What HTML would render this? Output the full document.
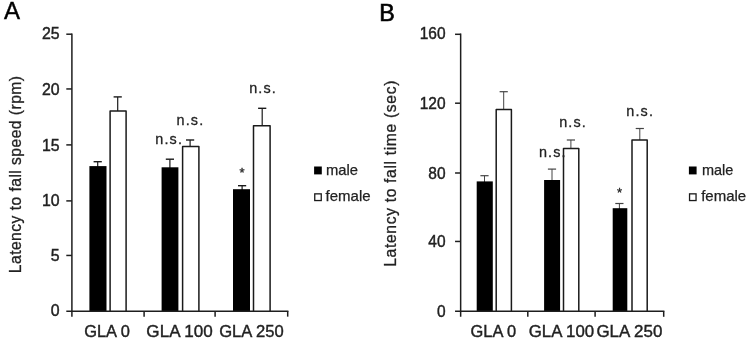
<!DOCTYPE html>
<html lang="en"><head><meta charset="utf-8"><title>Latency to fall</title>
<style>
html,body{margin:0;padding:0;background:#fff;}
svg{display:block;font-family:'Liberation Sans', sans-serif;}
body{width:749px;height:340px;overflow:hidden;}
</style></head><body>
<svg width="749" height="340" viewBox="0 0 749 340" style="filter:blur(0.5px)">
<rect x="0" y="0" width="749" height="340" fill="#fff"/>
<line x1="97.70" y1="161.70" x2="97.70" y2="167.10" stroke="#1a1a1a" stroke-width="1.2"/>
<line x1="93.60" y1="161.70" x2="101.80" y2="161.70" stroke="#1a1a1a" stroke-width="1.4"/>
<rect x="89.40" y="166.10" width="17.10" height="145.05" fill="#000"/>
<line x1="117.70" y1="96.90" x2="117.70" y2="112.00" stroke="#1a1a1a" stroke-width="1.2"/>
<line x1="113.60" y1="96.90" x2="121.80" y2="96.90" stroke="#1a1a1a" stroke-width="1.4"/>
<path d="M110.10 311.15V111.00H126.10V311.15" fill="#fff" stroke="#1a1a1a" stroke-width="1.5" stroke-linejoin="round"/>
<line x1="169.90" y1="159.20" x2="169.90" y2="168.30" stroke="#1a1a1a" stroke-width="1.2"/>
<line x1="165.80" y1="159.20" x2="174.00" y2="159.20" stroke="#1a1a1a" stroke-width="1.4"/>
<rect x="161.60" y="167.30" width="16.80" height="143.85" fill="#000"/>
<line x1="190.10" y1="140.00" x2="190.10" y2="147.40" stroke="#1a1a1a" stroke-width="1.2"/>
<line x1="186.00" y1="140.00" x2="194.20" y2="140.00" stroke="#1a1a1a" stroke-width="1.4"/>
<path d="M182.60 311.15V146.40H198.90V311.15" fill="#fff" stroke="#1a1a1a" stroke-width="1.5" stroke-linejoin="round"/>
<line x1="242.10" y1="185.70" x2="242.10" y2="190.20" stroke="#1a1a1a" stroke-width="1.2"/>
<line x1="238.00" y1="185.70" x2="246.20" y2="185.70" stroke="#1a1a1a" stroke-width="1.4"/>
<rect x="233.00" y="189.20" width="17.00" height="121.95" fill="#000"/>
<line x1="262.20" y1="108.30" x2="262.20" y2="126.80" stroke="#1a1a1a" stroke-width="1.2"/>
<line x1="258.10" y1="108.30" x2="266.30" y2="108.30" stroke="#1a1a1a" stroke-width="1.4"/>
<path d="M253.50 311.15V125.80H270.10V311.15" fill="#fff" stroke="#1a1a1a" stroke-width="1.5" stroke-linejoin="round"/>
<line x1="71.90" y1="33.50" x2="71.90" y2="316.65" stroke="#1e1e1e" stroke-width="1.5"/>
<line x1="66.30" y1="311.15" x2="288.40" y2="311.15" stroke="#1e1e1e" stroke-width="1.5"/>
<text x="59.60" y="315.90" font-size="16.6" text-anchor="end" fill="#222" stroke="#222" stroke-width="0.45" textLength="8.84" lengthAdjust="spacingAndGlyphs">0</text>
<line x1="66.30" y1="255.45" x2="71.90" y2="255.45" stroke="#1e1e1e" stroke-width="1.5"/>
<text x="59.60" y="261.35" font-size="16.6" text-anchor="end" fill="#222" stroke="#222" stroke-width="0.45" textLength="8.84" lengthAdjust="spacingAndGlyphs">5</text>
<line x1="66.30" y1="200.90" x2="71.90" y2="200.90" stroke="#1e1e1e" stroke-width="1.5"/>
<text x="59.60" y="205.70" font-size="16.6" text-anchor="end" fill="#222" stroke="#222" stroke-width="0.45" textLength="17.68" lengthAdjust="spacingAndGlyphs">10</text>
<line x1="66.30" y1="144.90" x2="71.90" y2="144.90" stroke="#1e1e1e" stroke-width="1.5"/>
<text x="59.60" y="151.00" font-size="16.6" text-anchor="end" fill="#222" stroke="#222" stroke-width="0.45" textLength="17.68" lengthAdjust="spacingAndGlyphs">15</text>
<line x1="66.30" y1="88.95" x2="71.90" y2="88.95" stroke="#1e1e1e" stroke-width="1.5"/>
<text x="59.60" y="94.90" font-size="16.6" text-anchor="end" fill="#222" stroke="#222" stroke-width="0.45" textLength="17.68" lengthAdjust="spacingAndGlyphs">20</text>
<line x1="66.30" y1="34.20" x2="71.90" y2="34.20" stroke="#1e1e1e" stroke-width="1.5"/>
<text x="59.60" y="39.15" font-size="16.6" text-anchor="end" fill="#222" stroke="#222" stroke-width="0.45" textLength="17.68" lengthAdjust="spacingAndGlyphs">25</text>
<line x1="144.10" y1="311.15" x2="144.10" y2="316.65" stroke="#1e1e1e" stroke-width="1.5"/>
<line x1="215.10" y1="311.15" x2="215.10" y2="316.65" stroke="#1e1e1e" stroke-width="1.5"/>
<line x1="287.70" y1="311.15" x2="287.70" y2="316.65" stroke="#1e1e1e" stroke-width="1.5"/>
<text x="107.00" y="336.70" font-size="16.6" text-anchor="middle" fill="#222" stroke="#222" stroke-width="0.4" textLength="45.70" lengthAdjust="spacingAndGlyphs">GLA 0</text>
<text x="179.60" y="336.70" font-size="16.6" text-anchor="middle" fill="#222" stroke="#222" stroke-width="0.4" textLength="66.50" lengthAdjust="spacingAndGlyphs">GLA 100</text>
<text x="251.40" y="336.70" font-size="16.6" text-anchor="middle" fill="#222" stroke="#222" stroke-width="0.4" textLength="64.50" lengthAdjust="spacingAndGlyphs">GLA 250</text>
<text x="21.00" y="273.20" font-size="15.7" text-anchor="start" fill="#222" stroke="#222" stroke-width="0.3" textLength="197.30" lengthAdjust="spacing" transform="rotate(-90 21.00 273.20)">Latency to fall speed (rpm)</text>
<text transform="translate(155.30 143.60) scale(0.96 1)" x="0" y="0" font-size="15.0" text-anchor="start" fill="#222" stroke="#222" stroke-width="0.3" textLength="27.71" lengthAdjust="spacing">n.s.</text>
<text transform="translate(176.60 124.90) scale(0.96 1)" x="0" y="0" font-size="15.0" text-anchor="start" fill="#222" stroke="#222" stroke-width="0.3" textLength="27.71" lengthAdjust="spacing">n.s.</text>
<text transform="translate(249.20 93.20) scale(0.96 1)" x="0" y="0" font-size="15.0" text-anchor="start" fill="#222" stroke="#222" stroke-width="0.3" textLength="27.71" lengthAdjust="spacing">n.s.</text>
<text x="242.10" y="177.00" font-size="13" text-anchor="middle" fill="#222" stroke="#222" stroke-width="0.3">*</text>
<rect x="314.10" y="166.50" width="7.70" height="7.90" fill="#000"/>
<text x="326.00" y="174.70" font-size="14.2" text-anchor="start" fill="#222" stroke="#222" stroke-width="0.25" textLength="32.00" lengthAdjust="spacingAndGlyphs">male</text>
<rect x="314.75" y="193.85" width="6.50" height="6.70" fill="#fff" stroke="#1a1a1a" stroke-width="1.3"/>
<text x="325.60" y="201.30" font-size="14.2" text-anchor="start" fill="#222" stroke="#222" stroke-width="0.25" textLength="45.00" lengthAdjust="spacingAndGlyphs">female</text>
<line x1="484.50" y1="175.70" x2="484.50" y2="182.40" stroke="#444" stroke-width="1.0"/>
<line x1="480.40" y1="175.70" x2="488.60" y2="175.70" stroke="#444" stroke-width="1.2"/>
<rect x="476.70" y="181.40" width="16.10" height="129.90" fill="#000"/>
<line x1="503.70" y1="91.70" x2="503.70" y2="110.50" stroke="#444" stroke-width="1.0"/>
<line x1="499.60" y1="91.70" x2="507.80" y2="91.70" stroke="#444" stroke-width="1.2"/>
<path d="M496.20 311.30V109.50H511.40V311.30" fill="#fff" stroke="#1a1a1a" stroke-width="1.5" stroke-linejoin="round"/>
<line x1="552.00" y1="169.10" x2="552.00" y2="181.00" stroke="#444" stroke-width="1.0"/>
<line x1="547.90" y1="169.10" x2="556.10" y2="169.10" stroke="#444" stroke-width="1.2"/>
<rect x="544.10" y="180.00" width="16.00" height="131.30" fill="#000"/>
<line x1="570.90" y1="140.00" x2="570.90" y2="149.60" stroke="#444" stroke-width="1.0"/>
<line x1="566.80" y1="140.00" x2="575.00" y2="140.00" stroke="#444" stroke-width="1.2"/>
<path d="M563.50 311.30V148.60H578.80V311.30" fill="#fff" stroke="#1a1a1a" stroke-width="1.5" stroke-linejoin="round"/>
<line x1="619.40" y1="203.50" x2="619.40" y2="209.20" stroke="#444" stroke-width="1.0"/>
<line x1="615.30" y1="203.50" x2="623.50" y2="203.50" stroke="#444" stroke-width="1.2"/>
<rect x="612.70" y="208.20" width="14.60" height="103.10" fill="#000"/>
<line x1="639.80" y1="128.50" x2="639.80" y2="140.90" stroke="#444" stroke-width="1.0"/>
<line x1="635.70" y1="128.50" x2="643.90" y2="128.50" stroke="#444" stroke-width="1.2"/>
<path d="M632.00 311.30V139.90H647.20V311.30" fill="#fff" stroke="#1a1a1a" stroke-width="1.5" stroke-linejoin="round"/>
<line x1="460.65" y1="33.60" x2="460.65" y2="316.80" stroke="#1e1e1e" stroke-width="1.5"/>
<line x1="455.05" y1="311.30" x2="664.40" y2="311.30" stroke="#1e1e1e" stroke-width="1.5"/>
<text x="445.60" y="316.60" font-size="17.2" text-anchor="end" fill="#222" stroke="#222" stroke-width="0.45" textLength="8.62" lengthAdjust="spacingAndGlyphs">0</text>
<line x1="455.05" y1="241.45" x2="460.65" y2="241.45" stroke="#1e1e1e" stroke-width="1.5"/>
<text x="445.60" y="247.10" font-size="17.2" text-anchor="end" fill="#222" stroke="#222" stroke-width="0.45" textLength="17.24" lengthAdjust="spacingAndGlyphs">40</text>
<line x1="455.05" y1="173.00" x2="460.65" y2="173.00" stroke="#1e1e1e" stroke-width="1.5"/>
<text x="445.60" y="178.60" font-size="17.2" text-anchor="end" fill="#222" stroke="#222" stroke-width="0.45" textLength="17.24" lengthAdjust="spacingAndGlyphs">80</text>
<line x1="455.05" y1="103.20" x2="460.65" y2="103.20" stroke="#1e1e1e" stroke-width="1.5"/>
<text x="445.60" y="108.75" font-size="17.2" text-anchor="end" fill="#222" stroke="#222" stroke-width="0.45" textLength="25.85" lengthAdjust="spacingAndGlyphs">120</text>
<line x1="455.05" y1="34.30" x2="460.65" y2="34.30" stroke="#1e1e1e" stroke-width="1.5"/>
<text x="445.60" y="38.80" font-size="17.2" text-anchor="end" fill="#222" stroke="#222" stroke-width="0.45" textLength="25.85" lengthAdjust="spacingAndGlyphs">160</text>
<line x1="527.80" y1="311.30" x2="527.80" y2="316.80" stroke="#1e1e1e" stroke-width="1.5"/>
<line x1="595.10" y1="311.30" x2="595.10" y2="316.80" stroke="#1e1e1e" stroke-width="1.5"/>
<line x1="663.70" y1="311.30" x2="663.70" y2="316.80" stroke="#1e1e1e" stroke-width="1.5"/>
<text x="493.32" y="336.70" font-size="16.6" text-anchor="middle" fill="#222" stroke="#222" stroke-width="0.4" textLength="45.70" lengthAdjust="spacingAndGlyphs">GLA 0</text>
<text x="561.45" y="336.70" font-size="16.6" text-anchor="middle" fill="#222" stroke="#222" stroke-width="0.4" textLength="65.50" lengthAdjust="spacingAndGlyphs">GLA 100</text>
<text x="629.40" y="336.70" font-size="16.6" text-anchor="middle" fill="#222" stroke="#222" stroke-width="0.4" textLength="66.00" lengthAdjust="spacingAndGlyphs">GLA 250</text>
<text x="396.50" y="266.80" font-size="15.7" text-anchor="start" fill="#222" stroke="#222" stroke-width="0.3" textLength="186.20" lengthAdjust="spacing" transform="rotate(-90 396.50 266.80)">Latency to fall time (sec)</text>
<text transform="translate(539.00 156.60) scale(0.96 1)" x="0" y="0" font-size="15.0" text-anchor="start" fill="#222" stroke="#222" stroke-width="0.3" textLength="27.71" lengthAdjust="spacing">n.s.</text>
<text transform="translate(559.20 127.30) scale(0.96 1)" x="0" y="0" font-size="15.0" text-anchor="start" fill="#222" stroke="#222" stroke-width="0.3" textLength="27.71" lengthAdjust="spacing">n.s.</text>
<text transform="translate(626.30 115.90) scale(0.96 1)" x="0" y="0" font-size="15.0" text-anchor="start" fill="#222" stroke="#222" stroke-width="0.3" textLength="27.71" lengthAdjust="spacing">n.s.</text>
<text x="619.50" y="197.20" font-size="13" text-anchor="middle" fill="#222" stroke="#222" stroke-width="0.3">*</text>
<rect x="688.90" y="166.50" width="7.70" height="7.90" fill="#000"/>
<text x="702.00" y="174.70" font-size="14.2" text-anchor="start" fill="#222" stroke="#222" stroke-width="0.25" textLength="31.40" lengthAdjust="spacingAndGlyphs">male</text>
<rect x="689.55" y="193.85" width="6.50" height="6.70" fill="#fff" stroke="#1a1a1a" stroke-width="1.3"/>
<text x="701.20" y="201.30" font-size="14.2" text-anchor="start" fill="#222" stroke="#222" stroke-width="0.25" textLength="45.00" lengthAdjust="spacingAndGlyphs">female</text>
<text x="3.90" y="19.35" font-size="24" text-anchor="start" fill="#000" stroke="#000" stroke-width="0.4">A</text>
<text x="379.20" y="20.65" font-size="23.2" text-anchor="start" fill="#000" stroke="#000" stroke-width="0.65">B</text>
</svg>
</body></html>
